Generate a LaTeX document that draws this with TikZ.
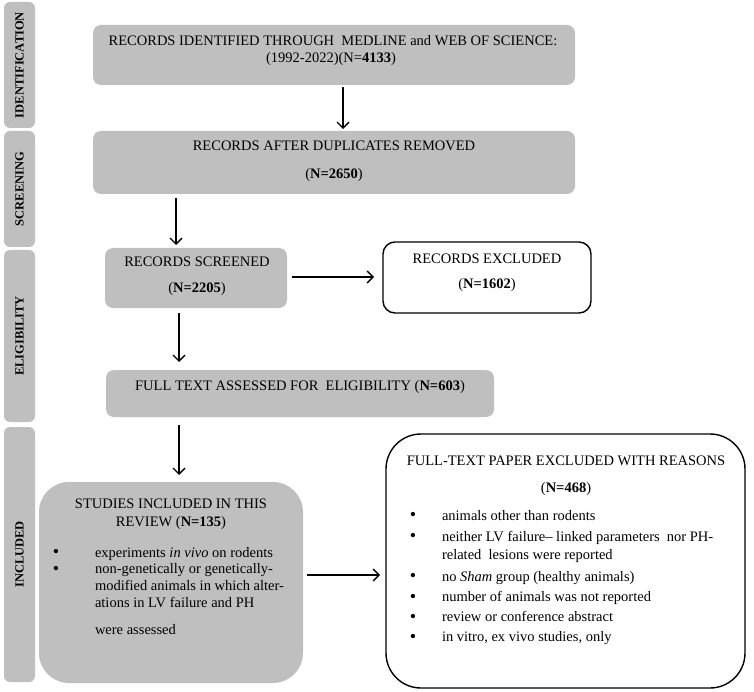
\documentclass[tikz,border=0pt]{standalone}
\usepackage{fontspec}
\setmainfont{Liberation Serif}
\usetikzlibrary{arrows.meta,calc}
\definecolor{boxgray}{HTML}{BFBFBF}
\begin{document}
\begin{tikzpicture}[x=1pt,y=-1pt,
  every node/.style={inner sep=0pt,outer sep=0pt},
  txt/.style={font=\fontsize{14.5}{17}\selectfont},
  graybox/.style={fill=boxgray,draw=none,anchor=north west},
  whitebox/.style={fill=white,draw=black,line width=1.4pt,anchor=north west},
  sidebar/.style={fill=boxgray,draw=none,anchor=north west,rounded corners=6pt,minimum width=31pt},
  sidelabel/.style={rotate=90,font=\fontsize{12.5}{14}\selectfont\bfseries},
  arr/.style={line width=1.3pt,-{Straight Barb[length=6pt,width=12pt,line width=1.3pt]}},
  bul/.style={font=\fontsize{18}{17}\selectfont,anchor=base},
  item/.style={txt,anchor=base west}]
\useasboundingbox (0,0) rectangle (754,692);
% side bars
\node[sidebar,minimum height=126pt] (s1) at (4,2) {};
\node[sidelabel] at (s1.center) {IDENTIFICATION};
\node[sidebar,minimum height=116pt] (s2) at (4,131) {};
\node[sidelabel] at (s2.center) {SCREENING};
\node[sidebar,minimum height=172pt] (s3) at (4,250) {};
\node[sidelabel] at (s3.center) {ELIGIBILITY};
\node[sidebar,minimum height=255pt] (s4) at (4,427) {};
\node[sidelabel] at (s4.center) {INCLUDED};
% box 1
\node[graybox,rounded corners=8pt,minimum width=482pt,minimum height=60pt] (b1) at (93,25) {};
\node[txt,anchor=base] (t1a) at (333,45.5) {RECORDS IDENTIFIED THROUGH\ \ MEDLINE and WEB OF SCIENCE:};
\node[txt,anchor=base] (t1b) at (331,63) {(1992-2022)(N=\textbf{4133})};
% box 2
\node[graybox,rounded corners=8pt,minimum width=482pt,minimum height=63pt] (b2) at (93,131) {};
\node[txt,anchor=base] (t2a) at (334,151) {RECORDS AFTER DUPLICATES REMOVED};
\node[txt,anchor=base] (t2b) at (334,179) {(\textbf{N=2650})};
% box 3
\node[graybox,rounded corners=8pt,minimum width=182pt,minimum height=60pt] (b3) at (105,248) {};
\node[txt,anchor=base] (t3a) at (197,267) {RECORDS SCREENED};
\node[txt,anchor=base] (t3b) at (197,292.5) {(\textbf{N=2205})};
% records excluded
\node[whitebox,rounded corners=12pt,minimum width=208pt,minimum height=71pt] (e1) at (383,242) {};
\node[txt,anchor=base] (e1a) at (487,263.5) {RECORDS EXCLUDED};
\node[txt,anchor=base] (e1b) at (487,288.5) {(\textbf{N=1602})};
% box 4
\node[graybox,rounded corners=8pt,minimum width=388pt,minimum height=47pt] (b4) at (106,370) {};
\node[txt,anchor=base] (t4) at (300,390) {FULL TEXT ASSESSED FOR\ \ ELIGIBILITY (\textbf{N=603})};
% box 5
\node[graybox,rounded corners=30pt,minimum width=264pt,minimum height=201pt] (b5) at (39,482) {};
\node[txt,anchor=base] (t5a) at (171,508) {STUDIES INCLUDED IN THIS};
\node[txt,anchor=base] (t5b) at (171,526) {REVIEW (\textbf{N=135})};
\node[bul] (p1) at (56,557.5) {•};
\node[item] (i1) at (95,557) {experiments \textit{in vivo} on rodents};
\node[bul] (p2) at (56,574) {•};
\node[item] (i2a) at (95,573.5) {non-genetically or genetically-};
\node[item] (i2b) at (95,590.5) {modified animals in which alter-};
\node[item] (i2c) at (95,607) {ations in LV failure and PH};
\node[item] (i2d) at (95,634) {were assessed};
% excluded with reasons
\node[whitebox,rounded corners=35pt,minimum width=359pt,minimum height=254pt] (e2) at (386,434) {};
\node[txt,anchor=base] (e2a) at (566,465) {FULL-TEXT PAPER EXCLUDED WITH REASONS};
\node[txt,anchor=base] (e2b) at (566,492.5) {(\textbf{N=468})};
\node[bul] (q1) at (413,520.5) {•};
\node[item] (j1) at (442,520) {animals other than rodents};
\node[bul] (q2) at (413,541.5) {•};
\node[item] (j2a) at (442,541) {neither LV failure– linked parameters\ \ nor PH-};
\node[item] (j2b) at (442,559.5) {related\ \ lesions were reported};
\node[bul] (q3) at (413,581.5) {•};
\node[item] (j3) at (442,581) {no \textit{Sham} group (healthy animals)};
\node[bul] (q4) at (413,602) {•};
\node[item] (j4) at (442,601.5) {number of animals was not reported};
\node[bul] (q5) at (413,622) {•};
\node[item] (j5) at (442,621.5) {review or conference abstract};
\node[bul] (q6) at (413,642) {•};
\node[item] (j6) at (442,641.5) {in vitro, ex vivo studies, only};
% arrows
\draw[arr] ($(b1.south)+(9,2)$) -- ($(b2.north)+(9,-2)$);
\draw[arr] ($(b3.north |- b2.south)+(-20,4)$) -- ($(b3.north)+(-20,-3)$);
\draw[arr] ($(b3.east)+(5,-1)$) -- ($(b3.east -| e1.west)+(-9,-1)$);
\draw[arr] ($(b3.south)+(-17,5)$) -- ($(b3.south |- b4.north)+(-17,-8)$);
\draw[arr] ($(b4.south -| b5.north)+(8,8)$) -- ($(b5.north)+(8,-7)$);
\draw[arr] ($(b5.east)+(4,-7.5)$) -- ($(b5.east -| e2.west)+(-6,-7.5)$);
\end{tikzpicture}
\end{document}
